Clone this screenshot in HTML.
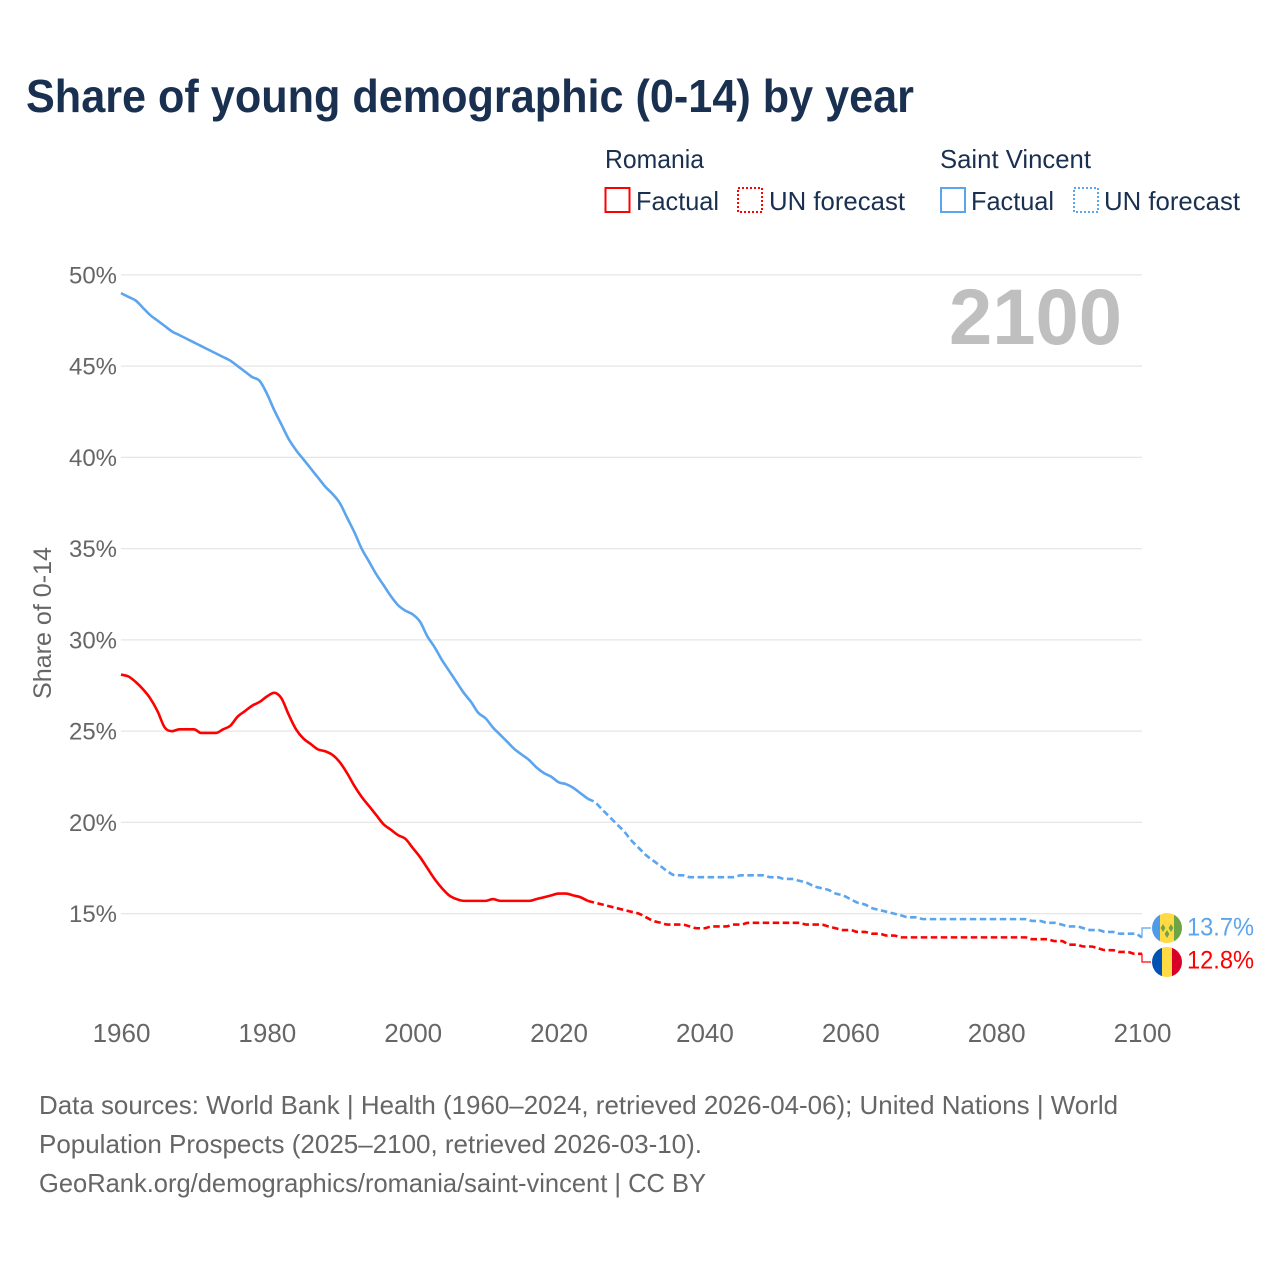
<!DOCTYPE html>
<html lang="en">
<head>
<meta charset="utf-8">
<title>Share of young demographic (0-14) by year</title>
<style>
  html, body { margin: 0; padding: 0; background: #fff; }
  svg { display: block; font-family: "Liberation Sans", sans-serif; }
</style>
</head>
<body>
<svg id="chart" xmlns="http://www.w3.org/2000/svg" width="1280" height="1280" viewBox="0 0 1280 1280">
  <defs>
    <clipPath id="clip-flag-vc"><circle cx="1167" cy="928" r="15"/></clipPath>
    <clipPath id="clip-flag-ro"><circle cx="1167" cy="962" r="15"/></clipPath>
  </defs>
  <rect width="1280" height="1280" fill="#fff"/>

  <text x="26" y="112" font-size="46" font-weight="700" fill="#1a3050" textLength="888" lengthAdjust="spacingAndGlyphs">Share of young demographic (0-14) by year</text>

  <g font-size="26" fill="#1a3050">
    <text x="605" y="168" textLength="99" lengthAdjust="spacingAndGlyphs">Romania</text>
    <rect x="605.5" y="188" width="24" height="24" fill="none" stroke="#ff0000" stroke-width="2"/>
    <text x="636" y="210" textLength="83" lengthAdjust="spacingAndGlyphs">Factual</text>
    <rect x="738" y="188" width="24" height="24" fill="none" stroke="#ff0000" stroke-width="2" stroke-dasharray="2 2"/>
    <text x="769" y="210" textLength="136" lengthAdjust="spacingAndGlyphs">UN forecast</text>
    <text x="940" y="168" textLength="151" lengthAdjust="spacingAndGlyphs">Saint Vincent</text>
    <rect x="941" y="188" width="24" height="24" fill="none" stroke="#5ba5ee" stroke-width="2"/>
    <text x="971" y="210" textLength="83" lengthAdjust="spacingAndGlyphs">Factual</text>
    <rect x="1074" y="188" width="24" height="24" fill="none" stroke="#5ba5ee" stroke-width="2" stroke-dasharray="2 2"/>
    <text x="1104" y="210" textLength="136" lengthAdjust="spacingAndGlyphs">UN forecast</text>
  </g>

  <g id="grid"></g>
  <g id="y-ticks"></g>
  <g id="x-ticks"></g>

  <text transform="translate(51,699) rotate(-90)" font-size="25" fill="#666" textLength="152" lengthAdjust="spacingAndGlyphs">Share of 0-14</text>

  <text x="949" y="344" font-size="79" font-weight="700" fill="#bfbfbf" textLength="173" lengthAdjust="spacingAndGlyphs">2100</text>

  <g id="series"></g>

  <g id="end-labels"></g>

  <g clip-path="url(#clip-flag-vc)">
    <rect x="1152" y="913" width="8" height="30" fill="#4f9be8"/>
    <rect x="1160" y="913" width="14" height="30" fill="#ffda44"/>
    <rect x="1174" y="913" width="8" height="30" fill="#6da544"/>
    <path d="M1163 924l2.4 4-2.4 4-2.4-4z M1171 924l2.4 4-2.4 4-2.4-4z M1167 930l2.4 4-2.4 4-2.4-4z" fill="#6da544"/>
  </g>
  <g clip-path="url(#clip-flag-ro)">
    <rect x="1152" y="947" width="10" height="30" fill="#0052b4"/>
    <rect x="1162" y="947" width="10" height="30" fill="#ffda44"/>
    <rect x="1172" y="947" width="10" height="30" fill="#d80027"/>
  </g>

  <g font-size="26" fill="#666">
    <text x="39" y="1114" textLength="1079" lengthAdjust="spacingAndGlyphs">Data sources: World Bank | Health (1960–2024, retrieved 2026-04-06); United Nations | World</text>
    <text x="39" y="1153" textLength="663" lengthAdjust="spacingAndGlyphs">Population Prospects (2025–2100, retrieved 2026-03-10).</text>
    <text x="39" y="1192" textLength="667" lengthAdjust="spacingAndGlyphs">GeoRank.org/demographics/romania/saint-vincent | CC BY</text>
  </g>
</svg>

<script>
// Chart data
const firstYear = 1960;
const xTickYears = [1960, 1980, 2000, 2020, 2040, 2060, 2080, 2100];
const yTickValues = [15, 20, 25, 30, 35, 40, 45, 50];

// Romania, 1960-2024
const romaniaFactual = [
  28.1, 28.0, 27.7, 27.3, 26.8, 26.1, 25.2, 25.0, 25.1, 25.1,
  25.1, 24.9, 24.9, 24.9, 25.1, 25.3, 25.8, 26.1, 26.4, 26.6,
  26.9, 27.1, 26.8, 25.9, 25.1, 24.6, 24.3, 24.0, 23.9, 23.7,
  23.3, 22.7, 22.0, 21.4, 20.9, 20.4, 19.9, 19.6, 19.3, 19.1,
  18.6, 18.1, 17.5, 16.9, 16.4, 16.0, 15.8, 15.7, 15.7, 15.7,
  15.7, 15.8, 15.7, 15.7, 15.7, 15.7, 15.7, 15.8, 15.9, 16.0,
  16.1, 16.1, 16.0, 15.9, 15.7
];
// Romania, 2025-2100
const romaniaForecast = [
  15.6, 15.5, 15.4, 15.3, 15.2,
  15.1, 15.0, 14.8, 14.6, 14.5, 14.4, 14.4, 14.4, 14.3, 14.2,
  14.2, 14.3, 14.3, 14.3, 14.4, 14.4, 14.5, 14.5, 14.5, 14.5,
  14.5, 14.5, 14.5, 14.5, 14.4, 14.4, 14.4, 14.3, 14.2, 14.1,
  14.1, 14.0, 14.0, 13.9, 13.9, 13.8, 13.8, 13.7, 13.7, 13.7,
  13.7, 13.7, 13.7, 13.7, 13.7, 13.7, 13.7, 13.7, 13.7, 13.7,
  13.7, 13.7, 13.7, 13.7, 13.7, 13.6, 13.6, 13.6, 13.5, 13.5,
  13.3, 13.3, 13.2, 13.2, 13.1, 13.0, 13.0, 12.9, 12.9, 12.8,
  12.8
];
// Saint Vincent, 1960-2024
const saintVincentFactual = [
  49.0, 48.8, 48.6, 48.2, 47.8, 47.5, 47.2, 46.9, 46.7, 46.5,
  46.3, 46.1, 45.9, 45.7, 45.5, 45.3, 45.0, 44.7, 44.4, 44.2,
  43.5, 42.6, 41.8, 41.0, 40.4, 39.9, 39.4, 38.9, 38.4, 38.0,
  37.5, 36.7, 35.9, 35.0, 34.3, 33.6, 33.0, 32.4, 31.9, 31.6,
  31.4, 31.0, 30.2, 29.6, 28.9, 28.3, 27.7, 27.1, 26.6, 26.0,
  25.7, 25.2, 24.8, 24.4, 24.0, 23.7, 23.4, 23.0, 22.7, 22.5,
  22.2, 22.1, 21.9, 21.6, 21.3
];
// Saint Vincent, 2025-2100
const saintVincentForecast = [
  21.1, 20.7, 20.3, 19.9, 19.5,
  19.0, 18.6, 18.2, 17.9, 17.6, 17.3, 17.1, 17.1, 17.0, 17.0,
  17.0, 17.0, 17.0, 17.0, 17.0, 17.1, 17.1, 17.1, 17.1, 17.0,
  17.0, 16.9, 16.9, 16.8, 16.7, 16.5, 16.4, 16.3, 16.1, 16.0,
  15.8, 15.6, 15.5, 15.3, 15.2, 15.1, 15.0, 14.9, 14.8, 14.8,
  14.7, 14.7, 14.7, 14.7, 14.7, 14.7, 14.7, 14.7, 14.7, 14.7,
  14.7, 14.7, 14.7, 14.7, 14.7, 14.6, 14.6, 14.5, 14.5, 14.4,
  14.3, 14.3, 14.2, 14.1, 14.1, 14.0, 14.0, 13.9, 13.9, 13.9,
  13.7
];

const NS = 'http://www.w3.org/2000/svg';
function xScale(year) { return 121 + (year - 1960) * (1142 - 121) / 140; }
function yScale(v) { return 274.9 + (50 - v) * 18.25; }

function makeEl(tag, attrs, parentId) {
  const el = document.createElementNS(NS, tag);
  Object.keys(attrs).forEach(function (k) { el.setAttribute(k, attrs[k]); });
  document.getElementById(parentId).appendChild(el);
  return el;
}

yTickValues.forEach(function (v) {
  const line = makeEl('line', { x1: 121, x2: 1142, y1: yScale(v), y2: yScale(v), stroke: '#e6e6e6', 'stroke-width': 1.3 }, 'grid');
  
  
  const label = makeEl('text', { x: 117, y: yScale(v) + 8.5, 'text-anchor': 'end', 'font-size': 24.5, fill: '#666', textLength: 48, lengthAdjust: 'spacingAndGlyphs' }, 'y-ticks');
  
  
  label.textContent = v + '%';
});

xTickYears.forEach(function (yr) {
  const label = makeEl('text', { x: xScale(yr) + 0.5, y: 1042, 'text-anchor': 'middle', 'font-size': 26, fill: '#666' }, 'x-ticks');
  
  
  label.textContent = yr;
});

// Monotone cubic path through the data points
function pathFrom(values, startYear) {
  const xs = values.map(function (v, i) { return xScale(startYear + i); });
  const ys = values.map(yScale);
  const n = values.length;
  const slopes = [];
  for (let i = 0; i < n - 1; i++) slopes.push((ys[i + 1] - ys[i]) / (xs[i + 1] - xs[i]));
  const tangents = [slopes[0]];
  for (let i = 1; i < n - 1; i++) {
    tangents.push(slopes[i - 1] * slopes[i] <= 0 ? 0 : (slopes[i - 1] + slopes[i]) / 2);
  }
  tangents.push(slopes[n - 2]);
  let d = 'M' + xs[0].toFixed(2) + ' ' + ys[0].toFixed(2);
  for (let i = 0; i < n - 1; i++) {
    const h = (xs[i + 1] - xs[i]) / 3;
    d += ' C' + (xs[i] + h).toFixed(2) + ' ' + (ys[i] + tangents[i] * h).toFixed(2) +
         ' ' + (xs[i + 1] - h).toFixed(2) + ' ' + (ys[i + 1] - tangents[i + 1] * h).toFixed(2) +
         ' ' + xs[i + 1].toFixed(2) + ' ' + ys[i + 1].toFixed(2);
  }
  return d;
}

function drawSeries(factual, forecast, color) {
  const forecastStart = firstYear + factual.length - 1;
  const solid = makeEl('path', { d: pathFrom(factual, firstYear), fill: 'none', stroke: color, 'stroke-width': 2.6, 'stroke-linejoin': 'round' }, 'series');
  
  
  const dashed = makeEl('path', { d: pathFrom([factual[factual.length - 1]].concat(forecast), forecastStart), fill: 'none', stroke: color, 'stroke-width': 2.6, 'stroke-dasharray': '6.5 3.5' }, 'series');
  
  
}
drawSeries(saintVincentFactual, saintVincentForecast, '#5ba5ee');
drawSeries(romaniaFactual, romaniaForecast, '#ff0000');

function drawEndLabel(forecast, color, flagY, baseline) {
  const endY = yScale(forecast[forecast.length - 1]);
  const connector = makeEl('path', { d: 'M1142 ' + endY.toFixed(1) + ' V' + flagY + ' H1151', fill: 'none', stroke: color, 'stroke-width': 1.2 }, 'end-labels');
  
  
  const label = makeEl('text', { x: 1187, y: baseline, 'font-size': 25, fill: color, textLength: 67, lengthAdjust: 'spacingAndGlyphs' }, 'end-labels');
  
  
  label.textContent = forecast[forecast.length - 1].toFixed(1) + '%';
}
drawEndLabel(saintVincentForecast, '#5ba5ee', 928, 935.5);
drawEndLabel(romaniaForecast, '#ff0000', 962, 968.5);
</script>
</body>
</html>
